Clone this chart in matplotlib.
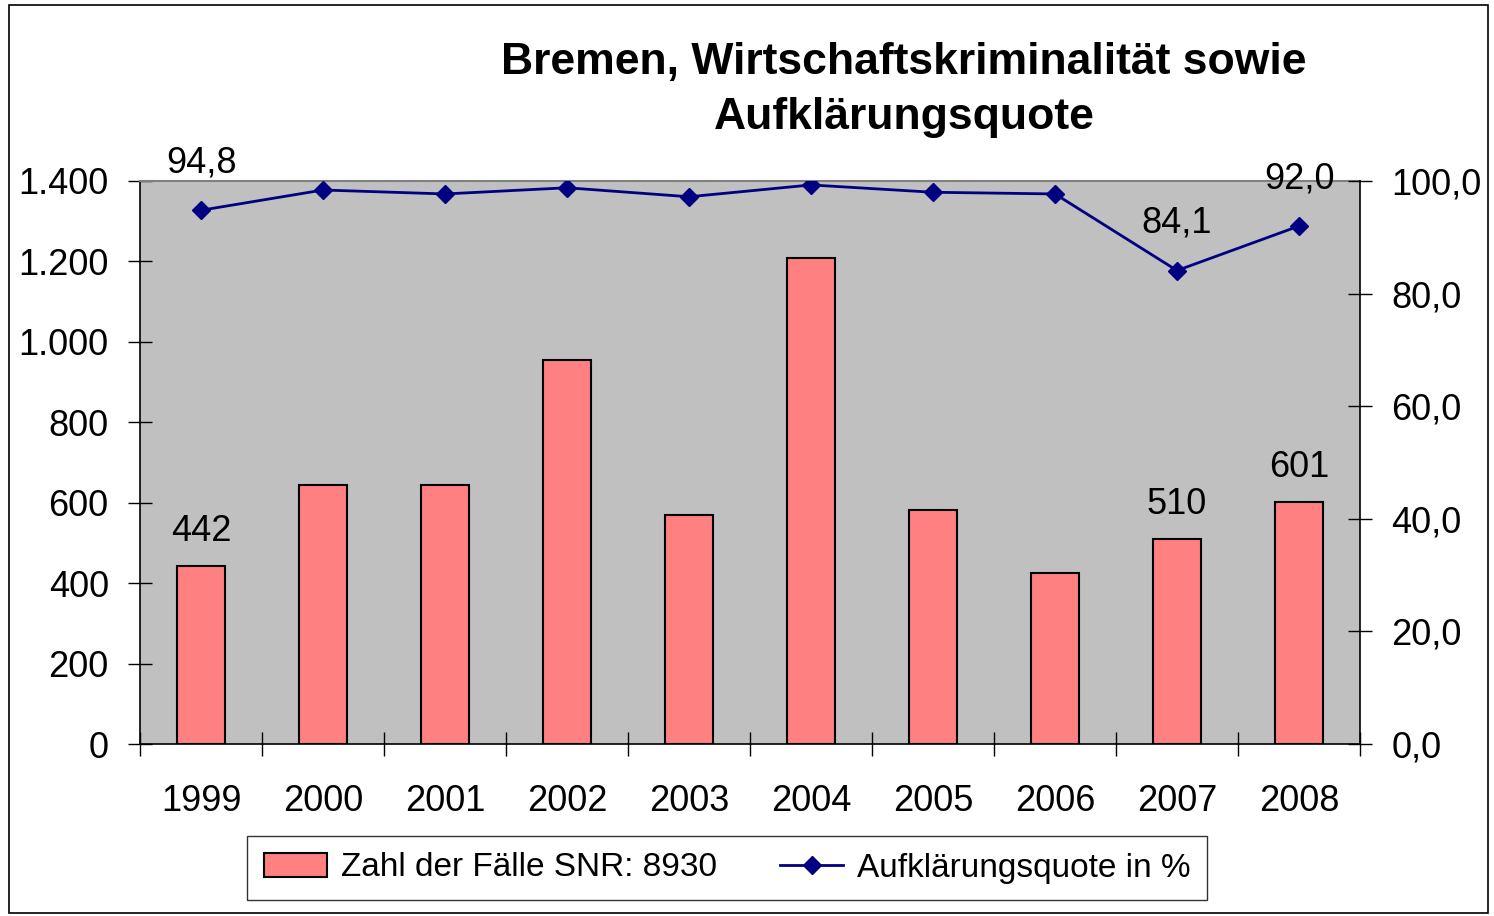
import matplotlib.pyplot as plt
from matplotlib.patches import Rectangle
from matplotlib.lines import Line2D
import numpy as np

plt.rcParams['font.family'] = ['Liberation Sans', 'DejaVu Sans']

years = ['1999', '2000', '2001', '2002', '2003', '2004', '2005', '2006', '2007', '2008']
faelle = [442, 645, 645, 955, 570, 1208, 582, 425, 510, 601]
quote = [94.8, 98.4, 97.7, 98.8, 97.2, 99.3, 98.0, 97.7, 84.1, 92.0]
# only these years carry data labels in the original
labelled = [0, 8, 9]

left_ticks = [0, 200, 400, 600, 800, 1000, 1200, 1400]
right_ticks = [0, 20, 40, 60, 80, 100]

W, H = 1494, 916
fig = plt.figure(figsize=(W / 100, H / 100), dpi=100)
fig.patches.append(Rectangle((9 / W, 3 / H), 1479 / W, 908 / H, transform=fig.transFigure,
                             fill=False, edgecolor='black', linewidth=1.2))

ax = fig.add_axes([140 / W, 1 - 744 / H, 1220 / W, 563 / H])
ax.set_facecolor('#c0c0c0')
x = np.arange(len(years))
ax.bar(x, faelle, width=0.4, color='#ff8080', edgecolor='black', linewidth=1.5, zorder=2)
ax.set_xlim(-0.5, len(years) - 0.5)
ax.set_ylim(0, 1400)

ax.set_yticks(left_ticks)
ax.set_yticklabels([f'{v:,}'.replace(',', '.') for v in left_ticks])
ax.set_xticks(x)
ax.set_xticklabels(years)
ax.set_xticks(np.arange(-0.5, len(years)), minor=True)
ax.tick_params(axis='x', which='major', length=0, pad=29, labelsize=26)
ax.tick_params(axis='x', which='minor', direction='inout', length=17, width=1)
ax.tick_params(axis='y', direction='inout', length=17, width=1, labelsize=26, pad=14)

for s in ['left', 'bottom']:
    ax.spines[s].set_color('black')
    ax.spines[s].set_linewidth(1.2)
ax.spines['top'].set_color('#808080')
ax.spines['top'].set_linewidth(1.5)
ax.spines['right'].set_visible(False)

for i in labelled:
    ax.annotate(f'{faelle[i]}', (x[i], faelle[i]), xytext=(0, 25), textcoords='offset points',
                ha='center', va='center', fontsize=26)

ax2 = ax.twinx()
ax2.plot(x, quote, color='#000080', linewidth=2, marker='D', markersize=9, zorder=3)
ax2.set_ylim(0, 100)
ax2.set_yticks(right_ticks)
ax2.set_yticklabels([f'{v:.1f}'.replace('.', ',') for v in right_ticks])
ax2.tick_params(axis='y', direction='inout', length=17, width=1, labelsize=26, pad=14)
for s in ['left', 'bottom', 'top']:
    ax2.spines[s].set_visible(False)
ax2.spines['right'].set_color('black')
ax2.spines['right'].set_linewidth(1.2)

for i in labelled:
    ax2.annotate(f'{quote[i]:.1f}'.replace('.', ','), (x[i], quote[i]), xytext=(0, 34),
                 textcoords='offset points', ha='center', va='center', fontsize=26)

fig.text(904 / W, 1 - 90 / H, 'Bremen, Wirtschaftskriminalität sowie\nAufklärungsquote',
         ha='center', va='center', fontsize=32, fontweight='bold', linespacing=1.45)

handles = [Rectangle((0, 0), 1, 1, facecolor='#ff8080', edgecolor='black', linewidth=1.5),
           Line2D([0], [0], color='#000080', linewidth=2, marker='D', markersize=9)]
leg = fig.legend(handles, ['Zahl der Fälle SNR: 8930', 'Aufklärungsquote in %'],
                 loc='center', bbox_to_anchor=(727 / W, 1 - 868 / H), ncol=2, fontsize=24,
                 frameon=True, fancybox=False, edgecolor='black', handlelength=1.9,
                 columnspacing=1.9, handletextpad=0.4, borderpad=0.5)
leg.get_frame().set_linewidth(1.0)

fig.savefig('out.png', dpi=100)
